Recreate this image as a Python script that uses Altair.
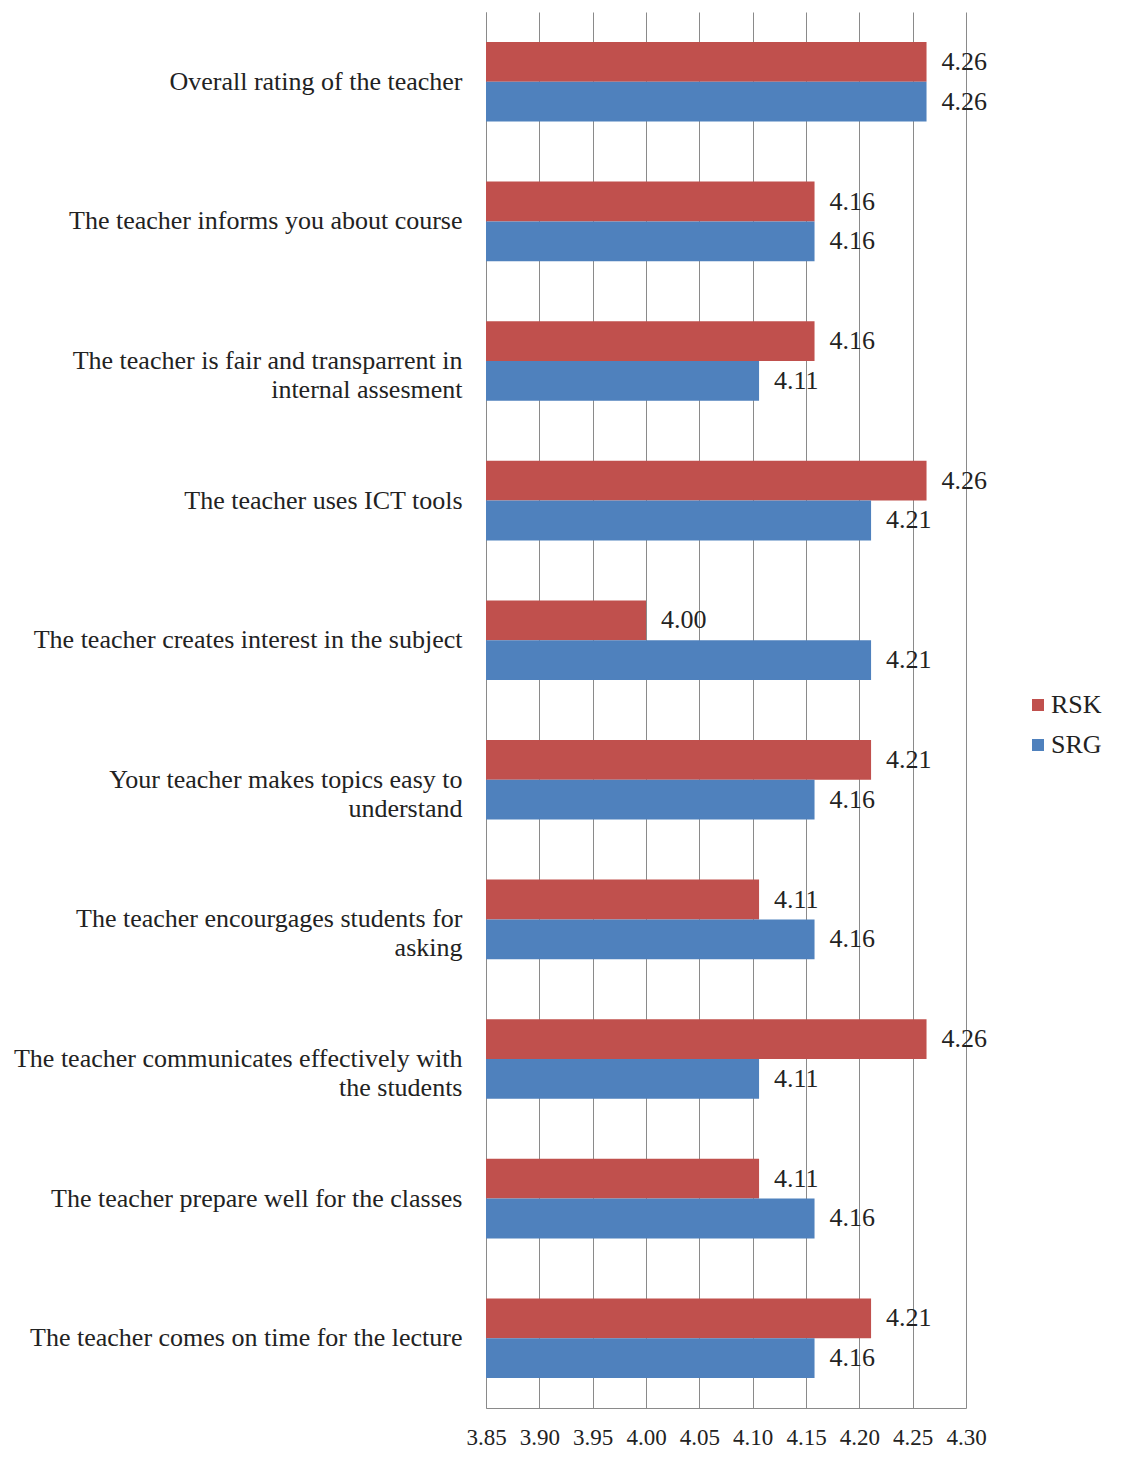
import altair as alt
import pandas as pd

categories = [
    "Overall rating of the teacher",
    "The teacher informs you about course",
    "The teacher is fair and transparrent in|internal assesment",
    "The teacher uses ICT tools",
    "The teacher creates interest in the subject",
    "Your teacher makes topics easy to|understand",
    "The teacher encourgages students for|asking",
    "The teacher communicates effectively with|the students",
    "The teacher prepare well for the classes",
    "The teacher comes on time for the lecture",
]
rsk = [4.263, 4.158, 4.158, 4.263, 4.000, 4.211, 4.106, 4.263, 4.106, 4.211]
srg = [4.263, 4.158, 4.106, 4.211, 4.211, 4.158, 4.158, 4.106, 4.158, 4.158]
series = ["RSK", "SRG"]
colors = ["#C0504D", "#4F81BD"]
x_ticks = [3.85, 3.90, 3.95, 4.00, 4.05, 4.10, 4.15, 4.20, 4.25, 4.30]

rows = []
for c, a, b in zip(categories, rsk, srg):
    rows.append({"category": c, "series": "RSK", "value": a})
    rows.append({"category": c, "series": "SRG", "value": b})
df = pd.DataFrame(rows)

FONT = "'Liberation Serif', 'Times New Roman', Times, 'DejaVu Serif', serif"
TXT = "#222222"
GRID = "#8a8a8a"

base = alt.Chart(df).encode(
    y=alt.Y(
        "category:N",
        sort=categories,
        scale=alt.Scale(paddingInner=0.43, paddingOuter=0.215),
        axis=alt.Axis(
            title=None,
            labelExpr="split(datum.label, '|')",
            labelFont=FONT,
            labelFontSize=26,
            labelColor=TXT,
            labelPadding=24,
            labelLineHeight=29,
            labelLimit=700,
            ticks=False,
            domainColor=GRID,
            grid=False,
        ),
    ),
    yOffset=alt.YOffset("series:N", sort=series, scale=alt.Scale(paddingInner=0, paddingOuter=0)),
)

bars = base.mark_bar().encode(
    x=alt.X(
        "value:Q",
        scale=alt.Scale(domain=[3.85, 4.30], zero=False, nice=False),
        axis=alt.Axis(
            title=None,
            values=x_ticks,
            format=".2f",
            labelFont=FONT,
            labelFontSize=23,
            labelColor=TXT,
            labelOverlap=False,
            labelFlush=False,
            labelBound=False,
            ticks=False,
            tickSize=0,
            labelPadding=18,
            grid=True,
            gridColor=GRID,
            gridWidth=1,
            gridOpacity=1,
            domainColor=GRID,
        ),
    ),
    x2=alt.datum(3.85),
    color=alt.Color(
        "series:N",
        scale=alt.Scale(domain=series, range=colors),
        legend=alt.Legend(
            title=None,
            orient="none",
            legendX=539,
            legendY=680,
            symbolType="square",
            symbolSize=144,
            symbolStrokeWidth=0,
            labelFont=FONT,
            labelFontSize=26,
            labelColor=TXT,
            rowPadding=14,
            labelOffset=0,
        ),
    ),
)

labels = base.mark_text(
    align="left", baseline="middle", dx=15, font=FONT, fontSize=26, color=TXT
).encode(
    x=alt.X("value:Q"),
    text=alt.Text("value:Q", format=".2f"),
)

chart = (
    alt.layer(bars, labels)
    .properties(
        width=480,
        height=1396,
        padding={"left": 478, "top": 4, "right": 155, "bottom": 45},
        autosize=alt.AutoSizeParams(type="none"),
        background="white",
    )
    .configure_view(strokeWidth=0)
)

chart.save("out.html", embed_options={"renderer": "svg", "actions": False})
